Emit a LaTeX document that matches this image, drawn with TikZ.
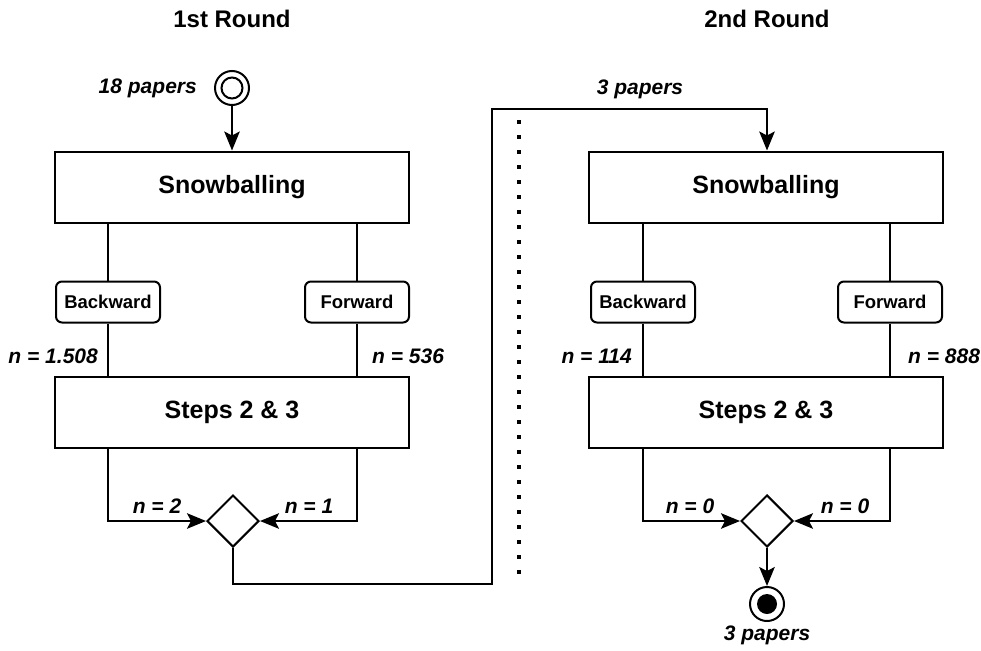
\documentclass[tikz,border=0pt]{standalone}
\usepackage{fontspec}
\setmainfont{Liberation Sans}
\usetikzlibrary{shapes.geometric,arrows.meta}

\tikzset{
  stage/.style={draw, line width=2, minimum width=354, minimum height=71, inner sep=0,
    font=\fontsize{25}{29}\selectfont\bfseries},
  branch/.style={draw, line width=2, rounded corners=6, minimum width=104, minimum height=41, inner sep=0,
    font=\fontsize{18.5}{22}\selectfont\bfseries},
  title/.style={font=\fontsize{24}{28}\selectfont\bfseries},
  count/.style={font=\fontsize{21}{25}\selectfont\bfseries\itshape, inner sep=0},
  gate/.style={draw, diamond, line width=2, minimum width=52, minimum height=52, inner sep=0},
  terminal/.style={draw, circle, line width=2, minimum size=34, inner sep=0},
  link/.style={line width=2},
  flow/.style={line width=2, -{Stealth[length=19pt,width=15.5pt,inset=4pt]}},
}

\begin{document}
\begin{tikzpicture}[x=1pt,y=-1pt]
\useasboundingbox (0,0) rectangle (981,650);

% titles
\node[title] (t1) at (232,19) {1st Round};
\node[title] (t2) at (767,19) {2nd Round};

% first round
\node[terminal] (start) at (232,88) {};
\draw[link] (start.center) circle (10.5);
\node[count, anchor=east] (l18) at (197,88) {18 papers};

\node[stage] (sb1) at (232,187) {Snowballing};
\node[branch] (bw1) at (108,302) {Backward};
\node[branch] (fw1) at (357,302) {Forward};
\node[stage] (st1) at (232,412) {Steps 2 \& 3};
\node[gate] (g1) at (233,521) {};

\node[count, anchor=east] (n1a) at (98,356) {n = 1.508};
\node[count, anchor=west] (n1b) at (372,356) {n = 536};
\node[count] (n1c) at (157,506) {n = 2};
\node[count] (n1d) at (309,506) {n = 1};

\draw[flow] (start) -- (sb1);
\draw[link] (sb1.south -| bw1) -- (bw1);
\draw[link] (sb1.south -| fw1) -- (fw1);
\draw[link] (bw1) -- (bw1 |- st1.north);
\draw[link] (fw1) -- (fw1 |- st1.north);
\draw[flow] (st1.south -| bw1) |- (g1.west);
\draw[flow] (st1.south -| fw1) |- (g1.east);

% hand-over between rounds
\coordinate (c1) at (492,584);
\coordinate (c2) at (492,109);
\node[count] (l3a) at (640,89) {3 papers};

% separator
\coordinate (d1) at (519,120);
\coordinate (d2) at (519,584);
\draw[line width=3.5, dash pattern=on 3.5 off 11.5] (d1) -- (d2);

% second round
\node[stage] (sb2) at (766,187) {Snowballing};
\node[branch] (bw2) at (643,302) {Backward};
\node[branch] (fw2) at (890,302) {Forward};
\node[stage] (st2) at (766,412) {Steps 2 \& 3};
\node[gate] (g2) at (767,521) {};
\node[terminal] (end) at (767,604) {};
\fill (end.center) circle (10);

\node[count, anchor=east] (n2a) at (632,356) {n = 114};
\node[count, anchor=west] (n2b) at (908,356) {n = 888};
\node[count] (n2c) at (690,506) {n = 0};
\node[count] (n2d) at (845,506) {n = 0};
\node[count] (l3b) at (767,635) {3 papers};

\draw[flow] (g1.south) |- (c1) -- (c2) -| (sb2.north -| g2);
\draw[link] (sb2.south -| bw2) -- (bw2);
\draw[link] (sb2.south -| fw2) -- (fw2);
\draw[link] (bw2) -- (bw2 |- st2.north);
\draw[link] (fw2) -- (fw2 |- st2.north);
\draw[flow] (st2.south -| bw2) |- (g2.west);
\draw[flow] (st2.south -| fw2) |- (g2.east);
\draw[flow] (g2) -- (end);
\end{tikzpicture}
\end{document}
